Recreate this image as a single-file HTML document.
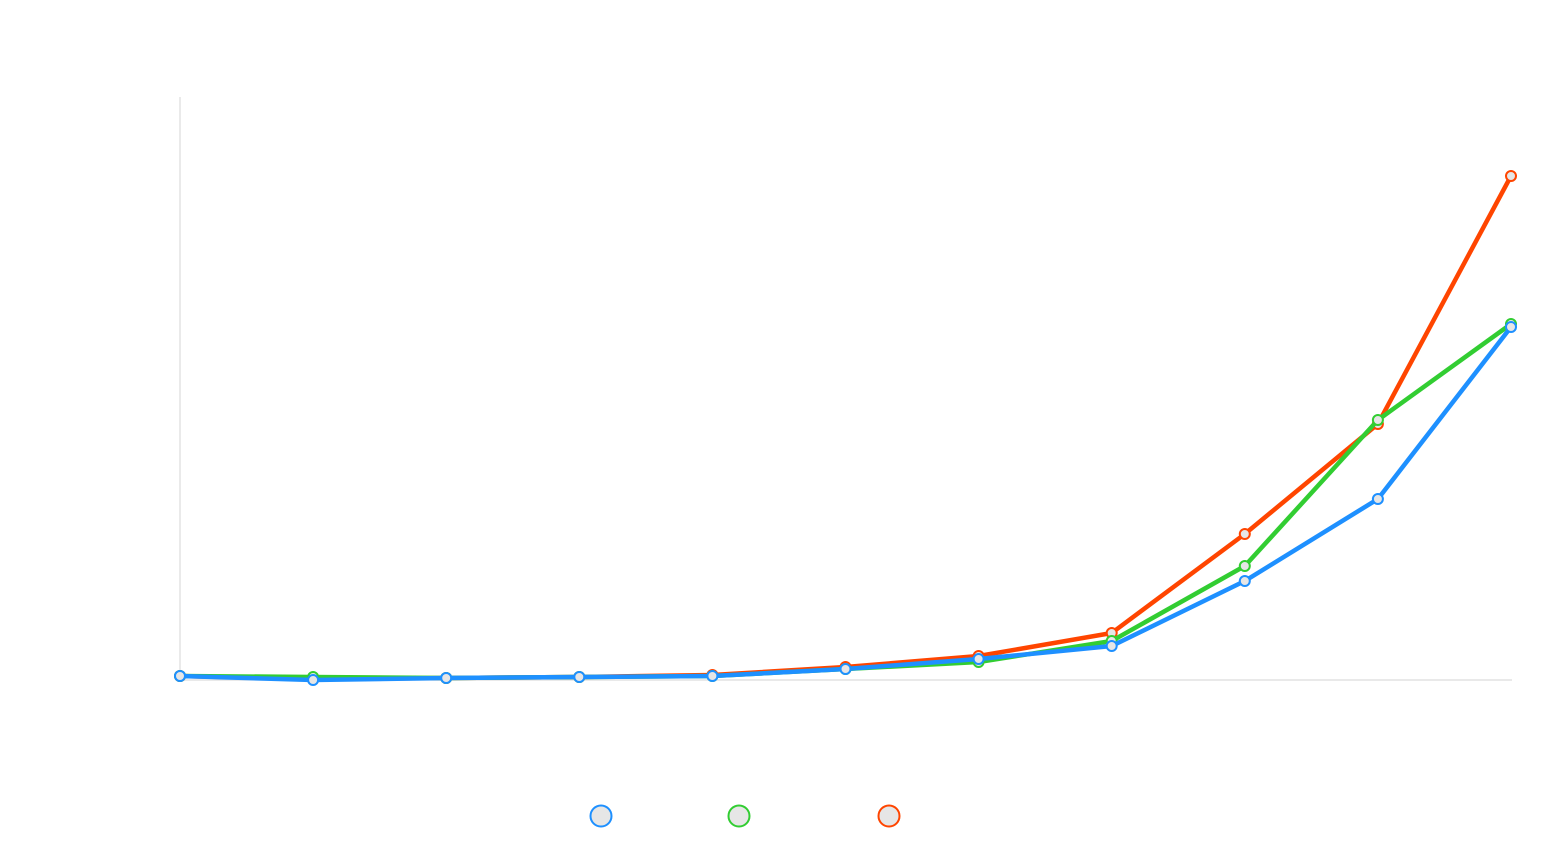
<!DOCTYPE html>
<html><head><meta charset="utf-8"><style>html,body{margin:0;padding:0;background:#fff;}svg{display:block;font-family:"Liberation Sans",sans-serif;}</style></head>
<body>
<svg id="chart" width="1564" height="850" viewBox="0 0 1564 850">
<line x1="180" y1="97" x2="180" y2="680" stroke="#dcdcdc" stroke-width="1.2"/>
<line x1="180" y1="680" x2="1512" y2="680" stroke="#dcdcdc" stroke-width="1.2"/>
<g id="series"></g>
<g id="legend"></g>
</svg>
<script>
const categories = [0,1,2,3,4,5,6,7,8,9,10];
const blueValues = [0.8,0,0.4,0.6,0.8,2.2,4.2,6.8,19.8,36.2,70.6];
const greenValues = [0.8,0.6,0.4,0.6,0.8,2.2,3.6,7.8,22.8,52,71.2];
const redValues = [0.8,0.2,0.4,0.6,1,2.6,4.8,9.4,29.2,51.2,100.8];
const NS='http://www.w3.org/2000/svg';
const x=i=>180+i*(1331/(categories.length-1));
const y=v=>680-v*5;
const g=document.getElementById('series');
const series=[['red-series',redValues,'#ff4500'],['green-series',greenValues,'#32cd32'],['blue-series',blueValues,'#1e90ff']];
series.forEach(([name,vals,col])=>{
  const grp=document.createElementNS(NS,'g');
  
  
  const p=document.createElementNS(NS,'polyline');
  
  
  p.setAttribute('points',vals.map((v,i)=>x(i)+','+y(v)).join(' '));
  p.setAttribute('fill','none');p.setAttribute('stroke',col);p.setAttribute('stroke-width','4.5');p.setAttribute('stroke-linejoin','round');
  grp.appendChild(p);
  vals.forEach((v,i)=>{
    const c=document.createElementNS(NS,'circle');
    
    
    c.setAttribute('cx',x(i));c.setAttribute('cy',y(v));c.setAttribute('r','5');
    c.setAttribute('fill','#e6e6e6');c.setAttribute('stroke',col);c.setAttribute('stroke-width','2');
    grp.appendChild(c);
  });
  g.appendChild(grp);
});
const lg=document.getElementById('legend');
[[601,'#1e90ff','legend-blue'],[739,'#32cd32','legend-green'],[889,'#ff4500','legend-red']].forEach(([cx,col,n])=>{
  const c=document.createElementNS(NS,'circle');
  
  
  c.setAttribute('cx',cx);c.setAttribute('cy',816);c.setAttribute('r','10.5');
  c.setAttribute('fill','#e6e6e6');c.setAttribute('stroke',col);c.setAttribute('stroke-width','2');
  lg.appendChild(c);
});
</script>
</body></html>
